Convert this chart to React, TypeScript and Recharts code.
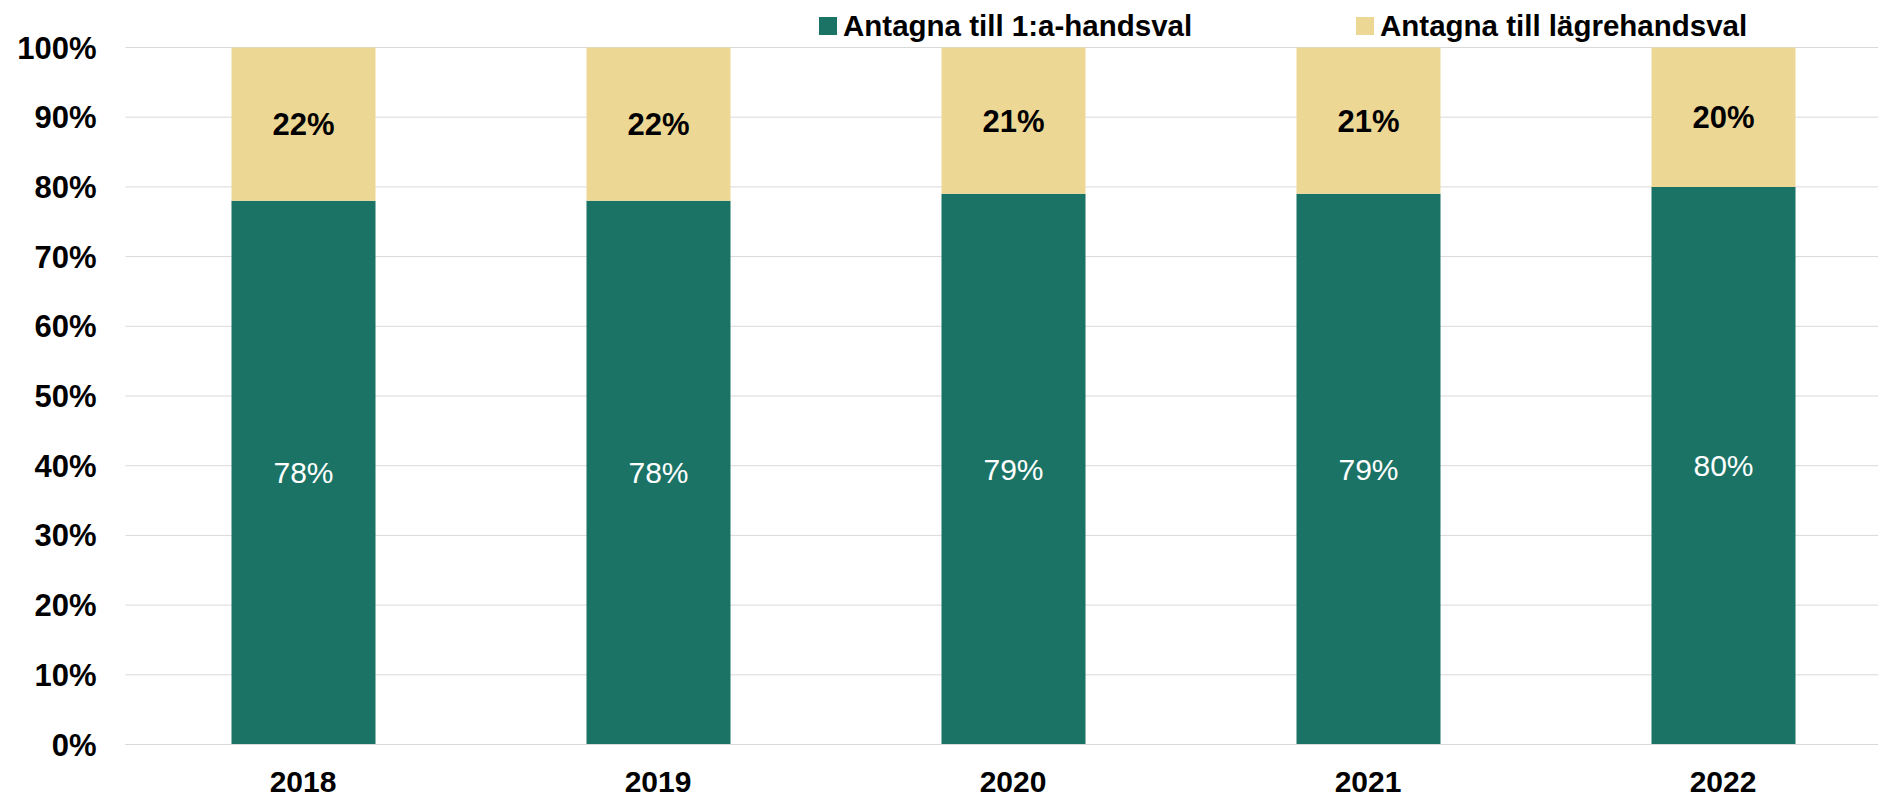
import { Bar, BarChart, CartesianGrid, LabelList, XAxis, YAxis } from "recharts";

const years = ["2018", "2019", "2020", "2021", "2022"];
const firstChoice = [78, 78, 79, 79, 80];
const lowerChoice = [22, 22, 21, 21, 20];
const yTicks = [0, 10, 20, 30, 40, 50, 60, 70, 80, 90, 100];
const seriesNames = ["Antagna till 1:a-handsval", "Antagna till lägrehandsval"];

const GREEN = "#1b7366";
const YELLOW = "#edd795";
const FONT = "'Liberation Sans', Arial, sans-serif";

const data = years.map((year, i) => ({
  year,
  first: firstChoice[i],
  lower: lowerChoice[i],
}));

const pct = (v: unknown) => `${v}%`;

export default function App() {
  return (
    <div style={{ position: "absolute", left: 0, top: 0, width: 1878, height: 800, overflow: "hidden", fontFamily: FONT }}>
      <BarChart
        width={1910}
        height={800}
        data={data}
        margin={{ top: 47.5, right: 9.5, bottom: 0, left: 0.5 }}
        barSize={144}
      >
        <CartesianGrid stroke="#d9d9d9" vertical={false} />
        <XAxis
          dataKey="year"
          height={55.5}
          tickLine={false}
          tickSize={0}
          tickMargin={26}
          axisLine={{ stroke: "#d9d9d9" }}
          tick={{ fill: "#000", fontSize: 30, fontWeight: 700, fontFamily: FONT }}
        />
        <YAxis
          width={125}
          domain={[0, 100]}
          ticks={yTicks}
          tickFormatter={pct}
          tickLine={false}
          tickSize={0}
          tickMargin={29}
          axisLine={false}
          tick={{ fill: "#000", fontSize: 31, fontWeight: 700, fontFamily: FONT }}
        />
        <Bar dataKey="first" stackId="a" fill={GREEN} name={seriesNames[0]} isAnimationActive={false}>
          <LabelList
            dataKey="first"
            position="center"
            formatter={pct}
            fill="#ffffff"
            style={{ fontSize: 30, fontFamily: FONT }}
          />
        </Bar>
        <Bar dataKey="lower" stackId="a" fill={YELLOW} name={seriesNames[1]} isAnimationActive={false}>
          <LabelList
            dataKey="lower"
            position="center"
            formatter={pct}
            fill="#000000"
            style={{ fontSize: 31, fontWeight: 700, fontFamily: FONT }}
          />
        </Bar>
      </BarChart>
      {/* legend overlay */}
      {seriesNames.map((name, i) => (
        <div
          key={name}
          style={{
            position: "absolute",
            top: 8,
            left: i === 0 ? 819 : 1356,
            display: "flex",
            alignItems: "center",
            height: 35,
            fontSize: 29.5,
            fontWeight: 700,
            color: "#000",
            whiteSpace: "nowrap",
          }}
        >
          <span
            style={{
              display: "inline-block",
              width: 18,
              height: 18,
              background: i === 0 ? GREEN : YELLOW,
              marginRight: 6,
            }}
          />
          {name}
        </div>
      ))}
    </div>
  );
}
